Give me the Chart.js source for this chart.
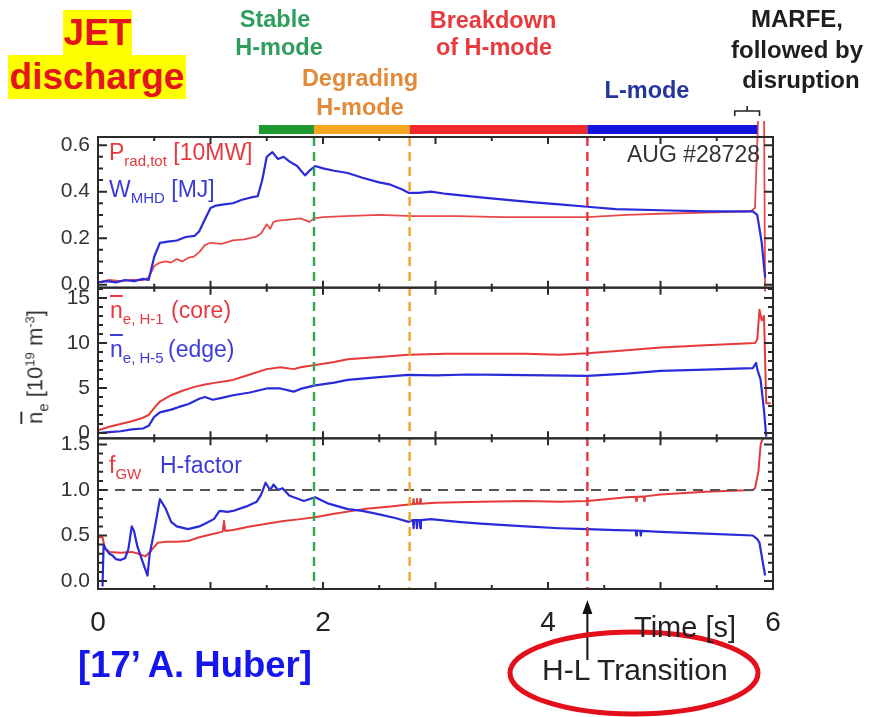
<!DOCTYPE html>
<html>
<head>
<meta charset="utf-8">
<script src="https://cdn.jsdelivr.net/npm/chart.js@4"></script>
<style>
  html, body { margin: 0; padding: 0; background: #fff; }
  #wrap { position: relative; width: 869px; height: 717px; overflow: hidden;
          font-family: "Liberation Sans", Arial, sans-serif; }
  #c { position: absolute; left: 0; top: 0; }
  .t { position: absolute; white-space: nowrap; line-height: 1; }
  .b { font-weight: bold; }
  .mid { transform: translateX(-50%); }
  .sub { font-size: 15px; vertical-align: -6px; }
  .ov { text-decoration: overline; }
</style>
</head>
<body>
<div id="wrap">
  <canvas id="c" width="869" height="717"></canvas>

  <div class="t b" style="left:63px;top:10px;width:69px;height:45px;line-height:45px;text-align:center;background:#ffff00;color:#e3141c;font-size:37px;">JET</div>
  <div class="t b" style="left:8px;top:55px;width:178px;height:44px;line-height:44px;text-align:center;background:#ffff00;color:#e3141c;font-size:37px;">discharge</div>

  <div class="t b mid" style="left:275px;top:8px;font-size:23.5px;color:#2f9e5c;">Stable</div>
  <div class="t b mid" style="left:279px;top:36px;font-size:23.5px;color:#2f9e5c;">H-mode</div>
  <div class="t b mid" style="left:360px;top:67px;font-size:23.5px;color:#e08a3a;">Degrading</div>
  <div class="t b mid" style="left:360px;top:96px;font-size:23.5px;color:#e08a3a;">H-mode</div>
  <div class="t b mid" style="left:493px;top:9px;font-size:23.5px;color:#e83a3c;">Breakdown</div>
  <div class="t b mid" style="left:494px;top:36px;font-size:23.5px;color:#e83a3c;">of H-mode</div>
  <div class="t b mid" style="left:647px;top:79px;font-size:23.5px;color:#24359c;">L-mode</div>
  <div class="t b mid" style="left:797px;top:7px;font-size:24px;color:#1e1e1e;">MARFE,</div>
  <div class="t b mid" style="left:797px;top:38px;font-size:24px;color:#1e1e1e;">followed by</div>
  <div class="t b mid" style="left:801px;top:68px;font-size:24px;color:#1e1e1e;">disruption</div>

  <div class="t" style="left:627px;top:143px;font-size:23px;color:#333;">AUG #28728</div>

  <div class="t" style="left:109px;top:141px;font-size:23px;color:#e5393f;">P<span class="sub">rad,tot</span> [10MW]</div>
  <div class="t" style="left:109px;top:178px;font-size:23px;color:#3b3bd6;">W<span class="sub">MHD</span> [MJ]</div>

  <div class="t" style="left:110px;top:299px;font-size:23px;color:#e5393f;"><span class="ov">n</span><span class="sub">e, H-1</span></div>
  <div class="t" style="left:171px;top:299px;font-size:23px;color:#e5393f;">(core)</div>
  <div class="t" style="left:110px;top:338px;font-size:23px;color:#3b3bd6;"><span class="ov">n</span><span class="sub">e, H-5</span></div>
  <div class="t" style="left:168px;top:338px;font-size:23px;color:#3b3bd6;">(edge)</div>

  <div class="t" style="left:109px;top:454px;font-size:23px;color:#e5393f;">f<span class="sub">GW</span></div>
  <div class="t" style="left:160px;top:454px;font-size:23px;color:#3b3bd6;">H-factor</div>

  <div class="t" style="left:37px;top:367px;font-size:22px;color:#333;transform:translate(-50%,-50%) rotate(-90deg);"><span class="ov">n</span><span class="sub">e</span> [10<sup style="font-size:13px;">19</sup> m<sup style="font-size:13px;">-3</sup>]</div>

  <div class="t" style="left:634px;top:613px;font-size:29px;color:#222;">Time [s]</div>
  <div class="t" style="left:542px;top:655px;font-size:30px;color:#222;">H-L Transition</div>
  <div class="t b" style="left:78px;top:647px;font-size:36.5px;color:#1515ee;">[17’ A. Huber]</div>
</div>

<script>
// ---- time traces (time in s) ----
// stored energy W_MHD [MJ]
const tW = [0, 0.08, 0.16, 0.24, 0.32, 0.4, 0.45, 0.5, 0.55, 0.62, 0.7, 0.78, 0.86, 0.9, 0.95, 1.0, 1.05, 1.12, 1.2, 1.28, 1.36, 1.42, 1.46, 1.5, 1.55, 1.6, 1.65, 1.7, 1.77, 1.84, 1.88, 1.93, 2.0, 2.1, 2.22, 2.35, 2.5, 2.6, 2.7, 2.76, 2.85, 2.96, 3.1, 3.4, 3.85, 4.1, 4.35, 4.6, 5.0, 5.4, 5.82, 5.86, 5.9, 5.93];
const wMhd = [0.01, 0.015, 0.01, 0.02, 0.015, 0.025, 0.02, 0.12, 0.18, 0.185, 0.19, 0.205, 0.21, 0.23, 0.28, 0.33, 0.34, 0.345, 0.35, 0.365, 0.375, 0.38, 0.45, 0.55, 0.57, 0.54, 0.55, 0.53, 0.51, 0.47, 0.49, 0.51, 0.50, 0.49, 0.48, 0.46, 0.44, 0.43, 0.41, 0.395, 0.395, 0.40, 0.39, 0.375, 0.355, 0.345, 0.335, 0.325, 0.32, 0.315, 0.315, 0.30, 0.18, 0.03];

// total radiated power P_rad,tot [10 MW]
const tP = [0, 0.1, 0.2, 0.3, 0.4, 0.45, 0.5, 0.55, 0.6, 0.65, 0.7, 0.75, 0.8, 0.85, 0.9, 0.95, 1.0, 1.1, 1.2, 1.3, 1.4, 1.45, 1.5, 1.53, 1.56, 1.6, 1.7, 1.8, 1.88, 1.92, 2.0, 2.2, 2.5, 2.8, 3.2, 3.6, 4.0, 4.35, 4.7, 5.0, 5.4, 5.8, 5.84, 5.87, 5.92, 5.93];
const pRad = [0.01, 0.02, 0.015, 0.02, 0.02, 0.03, 0.08, 0.095, 0.10, 0.095, 0.11, 0.10, 0.115, 0.12, 0.14, 0.17, 0.18, 0.175, 0.19, 0.195, 0.205, 0.22, 0.26, 0.24, 0.27, 0.275, 0.28, 0.285, 0.27, 0.285, 0.29, 0.295, 0.30, 0.295, 0.295, 0.29, 0.29, 0.29, 0.30, 0.305, 0.31, 0.315, 0.33, 0.75, 0.75, -0.03];

// line-averaged density, core chord H-1 [1e19 m^-3]
const tCore = [0, 0.1, 0.2, 0.3, 0.4, 0.45, 0.5, 0.55, 0.65, 0.75, 0.85, 0.95, 1.05, 1.2, 1.35, 1.5, 1.62, 1.74, 1.8, 1.93, 2.1, 2.22, 2.5, 2.76, 3.1, 3.4, 3.8, 4.1, 4.35, 4.7, 5.0, 5.4, 5.84, 5.86, 5.88, 5.9, 5.92, 5.94, 5.98];
const nCore = [0.3, 0.7, 1.0, 1.3, 1.7, 2.0, 2.8, 3.5, 4.2, 4.7, 5.1, 5.4, 5.6, 5.9, 6.5, 7.1, 7.3, 7.1, 7.3, 7.55, 7.9, 8.2, 8.45, 8.7, 8.8, 8.8, 8.8, 8.7, 8.85, 9.2, 9.5, 9.75, 10.0, 10.4, 13.7, 12.5, 13.0, 3.3, 3.3];

// line-averaged density, edge chord H-5 [1e19 m^-3]
const tEdge = [0, 0.1, 0.2, 0.3, 0.4, 0.45, 0.5, 0.55, 0.65, 0.72, 0.8, 0.9, 0.95, 1.02, 1.1, 1.2, 1.35, 1.5, 1.62, 1.74, 1.8, 1.93, 2.1, 2.22, 2.5, 2.76, 3.0, 3.3, 3.6, 4.0, 4.35, 4.7, 5.0, 5.4, 5.82, 5.85, 5.86, 5.89, 5.92, 5.94];
const nEdge = [0.0, 0.1, 0.2, 0.4, 0.5, 0.8, 1.8, 2.3, 2.6, 2.9, 3.2, 3.8, 4.0, 3.7, 3.9, 4.2, 4.5, 4.95, 4.95, 4.6, 4.9, 5.3, 5.6, 5.9, 6.2, 6.45, 6.4, 6.5, 6.45, 6.4, 6.35, 6.6, 6.9, 7.05, 7.2, 7.8, 7.1, 5.9, 2.5, -0.4];

// confinement factor H
const tH = [0.04, 0.05, 0.07, 0.1, 0.13, 0.16, 0.2, 0.24, 0.27, 0.3, 0.32, 0.35, 0.4, 0.44, 0.46, 0.5, 0.55, 0.6, 0.65, 0.7, 0.8, 0.9, 0.95, 1.03, 1.08, 1.15, 1.2, 1.32, 1.41, 1.45, 1.49, 1.53, 1.56, 1.6, 1.64, 1.7, 1.74, 1.83, 1.93, 2.05, 2.22, 2.35, 2.51, 2.65, 2.76, 2.8, 2.805, 2.81, 2.83, 2.835, 2.84, 2.86, 2.865, 2.87, 2.96, 3.2, 3.4, 3.8, 4.1, 4.35, 4.6, 4.78, 4.785, 4.79, 4.82, 4.825, 4.83, 5.0, 5.4, 5.82, 5.86, 5.88, 5.91, 5.93];
const hFac = [-0.06, 0.4, 0.35, 0.3, 0.28, 0.24, 0.23, 0.25, 0.35, 0.6, 0.55, 0.38, 0.2, 0.06, 0.3, 0.55, 0.9, 0.8, 0.65, 0.6, 0.57, 0.6, 0.63, 0.68, 0.77, 0.76, 0.77, 0.82, 0.87, 0.95, 1.08, 1.0, 1.06, 1.0, 1.02, 0.94, 0.92, 0.88, 0.92, 0.85, 0.79, 0.77, 0.73, 0.69, 0.65, 0.67, 0.58, 0.67, 0.67, 0.58, 0.67, 0.67, 0.58, 0.67, 0.68, 0.65, 0.63, 0.6, 0.58, 0.57, 0.56, 0.555, 0.5, 0.555, 0.55, 0.5, 0.55, 0.54, 0.52, 0.5, 0.46, 0.42, 0.2, 0.06];

// Greenwald fraction f_GW
const tF = [0, 0.04, 0.06, 0.1, 0.2, 0.3, 0.36, 0.42, 0.47, 0.53, 0.6, 0.7, 0.8, 0.9, 1.0, 1.1, 1.11, 1.12, 1.13, 1.2, 1.35, 1.5, 1.65, 1.8, 1.93, 2.1, 2.36, 2.6, 2.76, 2.8, 2.805, 2.81, 2.83, 2.835, 2.84, 2.86, 2.865, 2.87, 3.0, 3.4, 3.8, 4.1, 4.35, 4.7, 4.78, 4.785, 4.79, 4.85, 4.855, 4.86, 5.0, 5.4, 5.82, 5.84, 5.87, 5.89, 5.92];
const fGw = [0.48, 0.48, 0.36, 0.32, 0.31, 0.32, 0.30, 0.27, 0.33, 0.42, 0.43, 0.43, 0.44, 0.48, 0.51, 0.54, 0.55, 0.66, 0.55, 0.56, 0.6, 0.63, 0.66, 0.68, 0.70, 0.74, 0.79, 0.82, 0.84, 0.845, 0.9, 0.845, 0.85, 0.9, 0.85, 0.85, 0.9, 0.85, 0.86, 0.87, 0.88, 0.87, 0.88, 0.92, 0.925, 0.88, 0.925, 0.93, 0.88, 0.93, 0.95, 0.98, 1.0, 1.02, 1.2, 1.5, 1.6];

// ---- phases of the discharge ----
const phaseEdges = [1.43, 1.92, 2.77, 4.35, 5.86];
const phaseColors = ['#1e9a2e', '#f5a623', '#f02a2a', '#1414dc'];
const phaseLines = [1.92, 2.77, 4.35];
const phaseLineColors = ['#2ea84a', '#f0a526', '#e8343c'];
const hlTime = 4.35;
const marfeWindow = [5.66, 5.88];
const fGwLimit = 1.0;

// ---- panel value ranges ----
const topRange = [-0.013, 0.635];
const midRange = [-0.59, 16.15];
const botRange = [-0.088, 1.568];

const FONT = '"Liberation Sans", Arial, sans-serif';
const RED = '#e63a3a';
const BLUE = '#2a2ad8';

function series(ts, vs) { return ts.map((t, i) => ({ x: t, y: vs[i] })); }

function line(label, ts, vs, axis, color, width, extra) {
  return Object.assign({
    label, data: series(ts, vs), yAxisID: axis,
    borderColor: color, borderWidth: width, pointRadius: 0,
    tension: 0, fill: false, borderJoinStyle: 'round'
  }, extra || {});
}

function yAxis(range, step, digits, weight) {
  return {
    type: 'linear', position: 'left', stack: 'panels', stackWeight: 1, weight,
    min: range[0], max: range[1], offset: false,
    grid: { display: false, drawTicks: false }, border: { display: false },
    ticks: {
      stepSize: step, includeBounds: false, padding: 8, color: '#333',
      font: { family: FONT, size: 21 },
      callback: v => Number(v).toFixed(digits)
    },
    afterFit(s) { s.width = 98; }
  };
}

const decor = {
  id: 'decor',
  afterDatasetsDraw(chart) {
    const ctx = chart.ctx, xs = chart.scales.x, a = chart.chartArea;
    const panels = [
      { s: chart.scales.yTop, minor: 0.05, major: 0.2, hi: 0.6 },
      { s: chart.scales.yMid, minor: 1, major: 5, hi: 16 },
      { s: chart.scales.yBot, minor: 0.1, major: 0.5, hi: 1.5 }
    ];
    ctx.save();

    // density-limit reference line
    const yb = chart.scales.yBot, yl = yb.getPixelForValue(fGwLimit);
    ctx.setLineDash([10, 7]); ctx.lineWidth = 2.2; ctx.strokeStyle = '#555';
    ctx.beginPath(); ctx.moveTo(a.left, yl); ctx.lineTo(a.right, yl); ctx.stroke();

    // phase boundaries
    ctx.setLineDash([9, 6]); ctx.lineWidth = 2.4;
    phaseLines.forEach((t, i) => {
      const x = xs.getPixelForValue(t);
      ctx.strokeStyle = phaseLineColors[i];
      ctx.beginPath(); ctx.moveTo(x, a.top); ctx.lineTo(x, a.bottom); ctx.stroke();
    });
    ctx.setLineDash([]);

    // frames and inward ticks
    ctx.strokeStyle = '#2a2a2a'; ctx.lineWidth = 2;
    panels.forEach(p => {
      const top = p.s.top, bot = p.s.bottom;
      ctx.strokeRect(a.left, top, a.right - a.left, bot - top);
      ctx.beginPath();
      const n = Math.round(p.hi / p.minor);
      for (let k = 0; k <= n; k++) {
        const v = k * p.minor;
        const r = v / p.major;
        const len = Math.abs(r - Math.round(r)) < 1e-6 ? 9 : 5;
        const y = p.s.getPixelForValue(v);
        ctx.moveTo(a.left, y); ctx.lineTo(a.left + len, y);
        ctx.moveTo(a.right, y); ctx.lineTo(a.right - len, y);
      }
      for (let k = 1; k < 12; k++) {
        const t = k * 0.5, x = xs.getPixelForValue(t);
        const len = k % 2 === 0 ? 7 : 4;
        ctx.moveTo(x, top); ctx.lineTo(x, top + len);
        ctx.moveTo(x, bot); ctx.lineTo(x, bot - len);
      }
      ctx.stroke();
    });

    // phase colour bar
    for (let i = 0; i < phaseColors.length; i++) {
      const x0 = xs.getPixelForValue(phaseEdges[i]);
      const x1 = xs.getPixelForValue(phaseEdges[i + 1]);
      ctx.fillStyle = phaseColors[i];
      ctx.fillRect(x0, a.top - 12, x1 - x0, 9);
    }

    // MARFE bracket
    const m0 = xs.getPixelForValue(marfeWindow[0]), m1 = xs.getPixelForValue(marfeWindow[1]);
    const mc = (m0 + m1) / 2;
    ctx.strokeStyle = '#222'; ctx.lineWidth = 1.6;
    ctx.beginPath();
    ctx.moveTo(m0, 116); ctx.lineTo(m0, 111); ctx.lineTo(m1, 111); ctx.lineTo(m1, 116);
    ctx.moveTo(mc, 111); ctx.lineTo(mc, 106);
    ctx.stroke();

    // H-L transition arrow
    const xa = xs.getPixelForValue(hlTime);
    ctx.strokeStyle = '#111'; ctx.fillStyle = '#111'; ctx.lineWidth = 2;
    ctx.beginPath(); ctx.moveTo(xa, 660); ctx.lineTo(xa, 610); ctx.stroke();
    ctx.beginPath(); ctx.moveTo(xa, 600); ctx.lineTo(xa - 5, 614); ctx.lineTo(xa + 5, 614); ctx.closePath(); ctx.fill();

    // highlight ellipse
    ctx.strokeStyle = '#e3101c'; ctx.lineWidth = 5;
    ctx.beginPath(); ctx.ellipse(634, 673, 124, 41, 0, 0, Math.PI * 2); ctx.stroke();

    ctx.restore();
  }
};

new Chart(document.getElementById('c'), {
  type: 'line',
  data: {
    datasets: [
      line('W_MHD', tW, wMhd, 'yTop', BLUE, 2.2),
      line('P_rad,tot', tP, pRad, 'yTop', '#e84a4a', 1.8, { clip: { left: 0, top: 16, right: 0, bottom: 6 } }),
      line('n_e,H-5', tEdge, nEdge, 'yMid', BLUE, 2.2),
      line('n_e,H-1', tCore, nCore, 'yMid', RED, 2),
      line('H-factor', tH, hFac, 'yBot', BLUE, 2.2),
      line('f_GW', tF, fGw, 'yBot', RED, 2)
    ]
  },
  options: {
    responsive: false,
    animation: false,
    events: [],
    layout: { padding: { left: 0, right: 96, top: 137, bottom: 0 } },
    plugins: { legend: { display: false }, tooltip: { enabled: false } },
    scales: {
      x: {
        type: 'linear', min: 0, max: 6,
        grid: { display: false, drawTicks: false }, border: { display: false },
        ticks: { stepSize: 2, padding: 17, color: '#222', maxRotation: 0,
                 font: { family: FONT, size: 28 } },
        afterFit(s) { s.height = 128; }
      },
      yBot: yAxis(botRange, 0.5, 1, 1),
      yMid: yAxis(midRange, 5, 0, 2),
      yTop: yAxis(topRange, 0.2, 1, 3)
    }
  },
  plugins: [decor]
});
</script>
</body>
</html>
